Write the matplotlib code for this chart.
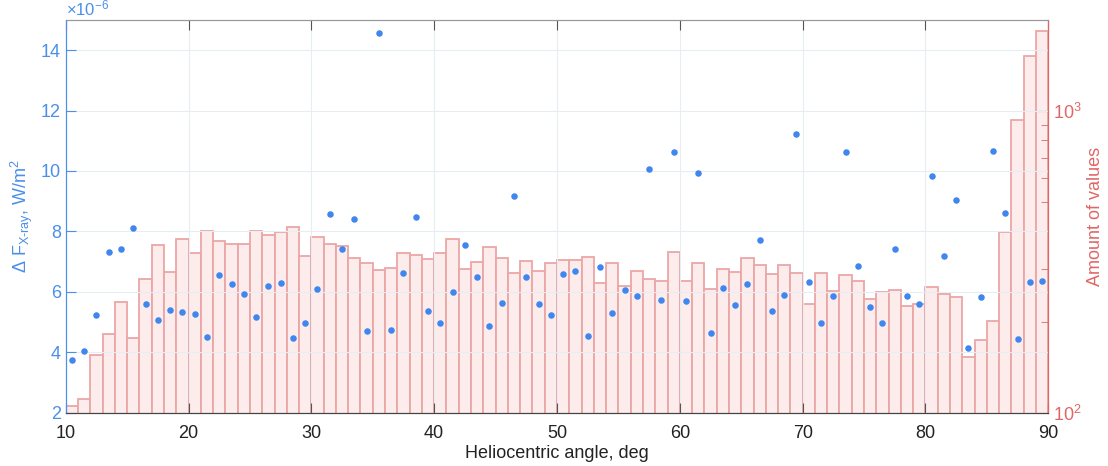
import numpy as np
import matplotlib
matplotlib.use("Agg")
import matplotlib.pyplot as plt
from matplotlib.ticker import LogLocator, LogFormatterMathtext, NullFormatter

plt.rcParams['font.family'] = ['Liberation Sans', 'DejaVu Sans']
plt.rcParams['mathtext.fontset'] = 'custom'
plt.rcParams['mathtext.rm'] = 'Liberation Sans'
plt.rcParams['mathtext.it'] = 'Liberation Sans:italic'
plt.rcParams['mathtext.bf'] = 'Liberation Sans:bold'

# bin edges (left side of each 1-degree bin)
bin_left = np.arange(10, 90)

# number of values in each bin (right axis, log)
counts = [104, 110, 154, 181, 232, 176, 277, 359, 292, 374,
          337, 399, 368, 361, 361, 400, 386, 396, 412, 330,
          380, 361, 356, 323, 313, 296, 301, 336, 332, 322,
          336, 374, 297, 315, 352, 325, 288, 318, 294, 312,
          320, 320, 327, 268, 312, 262, 294, 276, 272, 340,
          272, 312, 255, 298, 292, 323, 307, 287, 307, 289,
          228, 290, 252, 285, 271, 237, 249, 254, 224, 228,
          260, 247, 240, 152, 173, 200, 397, 929, 1524, 1845]

# mean delta flux per bin, units of 1e-6 W/m^2 (left axis)
dflux = [3.75, 4.05, 5.24, 7.30, 7.41, 8.12, 5.60, 5.05, 5.40, 5.34,
         5.26, 4.49, 6.57, 6.25, 5.92, 5.15, 6.20, 6.29, 4.47, 4.98,
         6.08, 8.56, 7.43, 8.40, 4.71, 14.56, 4.73, 6.61, 8.49, 5.37,
         4.97, 6.00, 7.55, 6.49, 4.86, 5.63, 9.17, 6.49, 5.61, 5.24,
         6.58, 6.69, 4.55, 6.81, 5.29, 6.07, 5.85, 10.08, 5.72, 10.62,
         5.68, 9.92, 4.65, 6.13, 5.56, 6.24, 7.72, 5.37, 5.90, 11.21,
         6.32, 4.96, 5.87, 10.62, 6.86, 5.48, 4.98, 7.41, 5.85, 5.58,
         9.82, 7.17, 9.03, 4.13, 5.82, 10.66, 8.62, 4.42, 6.32, 6.36]

blue = '#3f86ee'
blue_txt = '#4b8fe8'
red = '#e06666'
bar_edge = '#eba6a6'
bar_face = '#fcecec'

fig = plt.figure(figsize=(11.08, 4.66), dpi=100)
ax1 = fig.add_axes([0.0593, 0.1148, 0.8868, 0.8422])
ax2 = ax1.twinx()

# histogram on the right (log) axis
ax2.bar(bin_left, counts, width=1.0, align='edge', bottom=1,
        facecolor=bar_face, edgecolor=bar_edge, linewidth=1.3)
ax2.set_yscale('log')
ax2.set_ylim(100, 2000)
ax2.yaxis.set_major_locator(LogLocator(base=10))
ax2.yaxis.set_major_formatter(LogFormatterMathtext())
ax2.yaxis.set_minor_locator(LogLocator(base=10, subs=np.arange(2, 10)))
ax2.yaxis.set_minor_formatter(NullFormatter())
ax2.tick_params(axis='y', which='both', direction='in', colors=red,
                labelsize=13)
ax2.tick_params(axis='y', which='major', length=8)
ax2.tick_params(axis='y', which='minor', length=5)
ax2.set_ylabel('Amount of values', color=red, fontsize=13)

# dots on the left axis, drawn above the bars
ax1.set_zorder(ax2.get_zorder() + 1)
ax1.patch.set_visible(False)
ax1.scatter(bin_left + 0.5, dflux, s=22, color=blue, zorder=3, linewidths=0)
ax1.set_xlim(10, 90)
ax1.set_ylim(2, 15)
ax1.set_yticks(np.arange(2, 15, 2))
ax1.set_xticks(np.arange(10, 91, 10))
ax1.grid(True, color='#e8edf3', linewidth=0.8)
ax1.tick_params(axis='y', direction='in', colors=blue_txt, labelsize=13, length=7)
ax1.tick_params(axis='x', direction='in', colors='#555555', labelcolor='#222222',
                labelsize=13, length=7, top=True, pad=9)
ax1.set_xlabel('Heliocentric angle, deg', fontsize=13, color='#222222',
               labelpad=2)
ax1.set_ylabel(r'$\Delta$ F$_{\mathrm{X\text{-}ray}}$, W/m$^2$', color=blue_txt,
               fontsize=13)
ax1.text(0.0, 1.005, r'$\times10^{-6}$', transform=ax1.transAxes,
         color=blue_txt, fontsize=12, ha='left', va='bottom')

for a in (ax1, ax2):
    a.spines['left'].set_color(blue_txt)
    a.spines['right'].set_color(red)
    a.spines['top'].set_color('#999999')
    a.spines['bottom'].set_color('#444444')

fig.savefig('out.png', dpi=100)
